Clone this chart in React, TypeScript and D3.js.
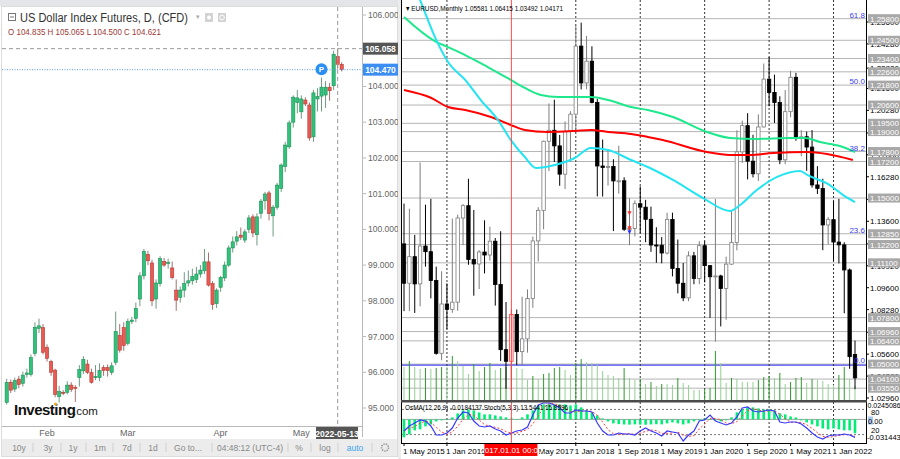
import { useEffect } from "react";
import * as d3 from "d3";

// ---------- left panel: US Dollar Index Futures, daily (Investing.com) ----------
// [open, high, low, close], mid-Jan .. 16 May 2022
const dxyCandles: [number, number, number, number][] = [
  [95.16, 95.82, 95.1, 95.72], [95.72, 95.8, 95.42, 95.5], [95.53, 95.85, 95.45, 95.77],
  [95.81, 95.9, 95.55, 95.66], [95.69, 96.02, 95.6, 95.92], [95.94, 96.1, 95.85, 95.98],
  [95.94, 96.5, 95.88, 96.41], [96.53, 97.4, 96.45, 97.26], [97.23, 97.5, 97.1, 97.3],
  [97.25, 97.35, 96.5, 96.56], [96.7, 96.78, 96.3, 96.39], [96.3, 96.35, 95.9, 96.0],
  [96.06, 96.1, 95.3, 95.38], [95.32, 95.62, 95.15, 95.46], [95.44, 95.5, 95.36, 95.42],
  [95.44, 95.75, 95.38, 95.64], [95.64, 95.72, 95.45, 95.52], [95.58, 95.64, 95.17, 95.55],
  [95.85, 96.2, 95.6, 96.08], [96.04, 96.45, 95.95, 96.36], [96.23, 96.35, 95.95, 96.0],
  [95.99, 96.1, 95.68, 95.72], [95.85, 96.2, 95.78, 95.88], [95.85, 96.25, 95.75, 96.05],
  [96.13, 96.2, 95.9, 96.05], [96.13, 96.22, 95.88, 96.05], [96.0, 96.28, 95.92, 96.18],
  [96.28, 97.7, 96.2, 97.14], [97.03, 97.35, 96.55, 96.62], [97.25, 97.4, 96.6, 96.75],
  [96.81, 97.5, 96.75, 97.42], [97.42, 97.55, 97.35, 97.46], [97.51, 97.95, 97.4, 97.79],
  [98.05, 98.8, 97.85, 98.7], [98.7, 99.45, 98.6, 99.38], [99.3, 99.4, 99.0, 99.12],
  [99.06, 99.15, 97.85, 98.0], [98.05, 98.6, 97.78, 98.5], [98.48, 99.25, 98.4, 99.18],
  [99.1, 99.2, 98.95, 99.0], [99.05, 99.18, 98.9, 99.08], [98.92, 99.1, 98.6, 98.65],
  [98.3, 98.6, 97.72, 98.02], [98.1, 98.4, 97.95, 98.3], [98.3, 98.8, 98.1, 98.48],
  [98.5, 98.85, 98.4, 98.56], [98.56, 98.9, 98.45, 98.68], [98.6, 98.95, 98.5, 98.75],
  [98.75, 99.0, 98.65, 98.86], [98.84, 99.45, 98.75, 99.09], [99.09, 99.35, 98.4, 98.44],
  [98.48, 98.55, 97.75, 97.9], [97.92, 98.35, 97.8, 98.3], [98.38, 98.7, 98.25, 98.65],
  [98.64, 99.1, 98.55, 99.0], [99.0, 99.55, 98.95, 99.48], [99.48, 99.8, 99.35, 99.65],
  [99.67, 99.95, 99.55, 99.79], [99.84, 100.05, 99.7, 99.78], [99.7, 100.0, 99.62, 99.93],
  [100.0, 100.4, 99.9, 100.32], [100.35, 100.42, 99.78, 99.9], [99.85, 100.45, 99.55, 100.35],
  [100.45, 100.85, 100.3, 100.79], [100.8, 101.05, 100.55, 100.99], [101.02, 101.08, 100.25, 100.44],
  [100.38, 100.68, 99.8, 100.62], [100.62, 101.3, 100.55, 101.24], [101.15, 101.85, 101.05, 101.8],
  [101.76, 102.45, 101.6, 102.36], [102.31, 103.05, 102.25, 102.98], [103.0, 103.75, 102.85, 103.7],
  [103.55, 103.9, 103.25, 103.68], [103.29, 103.75, 103.1, 103.65], [103.62, 103.7, 103.45, 103.51],
  [103.48, 103.55, 102.48, 102.56], [102.59, 103.9, 102.45, 103.82], [103.65, 103.95, 103.3, 103.72],
  [103.73, 104.25, 103.3, 103.98], [103.76, 104.15, 103.4, 103.98], [103.98, 104.1, 103.6, 103.88],
  [104.02, 105.0, 103.9, 104.9], [104.835, 105.065, 104.5, 104.621], [104.62, 104.68, 104.42, 104.47],
];
const dxyTicks = [95, 96, 97, 98, 99, 100, 101, 102, 103, 104, 105, 106];
const dxyMonthNames = ["Feb", "Mar", "Apr", "May"];
const dxyMonthIdx = [10, 30, 53, 73];
const dxyCrossIdx = 82;
const dxyCrossPrice = 105.058;
const dxyLastPrice = 104.47;
const toolbarLabels = ["10y", "3y", "1y", "1m", "7d", "1d", "Go to...", "04:48:12 (UTC-4)", "%", "log", "auto"];
const toolbarX = [19, 48, 73, 100, 127, 153, 188, 250, 299, 325, 355];
const toolbarSep = [33, 61, 86, 113, 140, 166, 212, 288, 311, 338, 372];

// ---------- right panel: EURUSD monthly (MT4), May 2015 .. May 2022 ----------
const eurCandles: [number, number, number, number][] = [
  [1.1224, 1.1467, 1.0819, 1.0987], [1.0987, 1.1436, 1.0819, 1.1147], [1.1147, 1.1278, 1.0808, 1.0983],
  [1.0983, 1.1714, 1.0848, 1.1211], [1.1211, 1.146, 1.1087, 1.1177], [1.1177, 1.1495, 1.0896, 1.1003],
  [1.1003, 1.1087, 1.0557, 1.0565], [1.0565, 1.1059, 1.0523, 1.0862], [1.0862, 1.0986, 1.0711, 1.083],
  [1.083, 1.1376, 1.0809, 1.0873], [1.0873, 1.14, 1.0821, 1.138], [1.138, 1.1464, 1.1216, 1.1454],
  [1.1454, 1.1616, 1.1098, 1.113], [1.113, 1.1428, 1.0912, 1.1103], [1.1103, 1.1186, 1.0952, 1.1175],
  [1.1175, 1.1366, 1.1046, 1.1157], [1.1157, 1.1327, 1.1123, 1.124], [1.124, 1.1259, 1.0852, 1.0979],
  [1.0979, 1.13, 1.0518, 1.0587], [1.0587, 1.0874, 1.0352, 1.0517], [1.0517, 1.0829, 1.034, 1.0799],
  [1.0799, 1.0829, 1.0494, 1.0575], [1.0575, 1.0906, 1.0493, 1.0652], [1.0652, 1.095, 1.0569, 1.0895],
  [1.0895, 1.1268, 1.0839, 1.1242], [1.1242, 1.1445, 1.1118, 1.1426], [1.1426, 1.1846, 1.1312, 1.1842],
  [1.1842, 1.207, 1.1662, 1.1908], [1.1908, 1.2092, 1.1717, 1.1814], [1.1814, 1.188, 1.1574, 1.1644],
  [1.1644, 1.1961, 1.1554, 1.1902], [1.1902, 1.2023, 1.1717, 1.2005], [1.2005, 1.2537, 1.1916, 1.2415],
  [1.2415, 1.2556, 1.2154, 1.2193], [1.2193, 1.2476, 1.2155, 1.2324], [1.2324, 1.2414, 1.207, 1.2076],
  [1.2076, 1.2097, 1.151, 1.1693], [1.1693, 1.1852, 1.1509, 1.1684], [1.1684, 1.1791, 1.1575, 1.169],
  [1.169, 1.1734, 1.1301, 1.1603], [1.1603, 1.1815, 1.1526, 1.1604], [1.1604, 1.1625, 1.1302, 1.1312],
  [1.1312, 1.15, 1.1216, 1.1317], [1.1317, 1.1486, 1.1269, 1.1466], [1.1466, 1.157, 1.1289, 1.1445],
  [1.1445, 1.1489, 1.1234, 1.1372], [1.1372, 1.1448, 1.1176, 1.1217], [1.1217, 1.1324, 1.111, 1.1216],
  [1.1216, 1.1265, 1.1107, 1.1169], [1.1169, 1.1412, 1.116, 1.1371], [1.1371, 1.1412, 1.1028, 1.1076],
  [1.1076, 1.125, 1.0926, 1.0987], [1.0987, 1.1109, 1.0879, 1.0899], [1.0899, 1.1179, 1.0879, 1.1152],
  [1.1152, 1.1176, 1.0981, 1.1016], [1.1016, 1.124, 1.0981, 1.1213], [1.1213, 1.1239, 1.0992, 1.1093],
  [1.1093, 1.1095, 1.0778, 1.1026], [1.1026, 1.1495, 1.0636, 1.1031], [1.1031, 1.1038, 1.0727, 1.0955],
  [1.0955, 1.1147, 1.0767, 1.1102], [1.1102, 1.1422, 1.1097, 1.1232], [1.1232, 1.1908, 1.1185, 1.1778],
  [1.1778, 1.1966, 1.1711, 1.1936], [1.1936, 1.2011, 1.1612, 1.1722], [1.1722, 1.1881, 1.1624, 1.1646],
  [1.1646, 1.2004, 1.1603, 1.1928], [1.1928, 1.231, 1.1925, 1.2216], [1.2216, 1.2349, 1.2053, 1.2136],
  [1.2136, 1.2243, 1.1952, 1.2075], [1.2075, 1.2113, 1.1704, 1.173], [1.173, 1.215, 1.1704, 1.202],
  [1.202, 1.2266, 1.1986, 1.2227], [1.2227, 1.2254, 1.1845, 1.1858], [1.1858, 1.1909, 1.1752, 1.1869],
  [1.1869, 1.19, 1.1664, 1.1807], [1.1807, 1.1909, 1.1563, 1.1579], [1.1579, 1.1692, 1.1524, 1.1558],
  [1.1558, 1.1616, 1.1186, 1.1338], [1.1338, 1.1386, 1.1222, 1.137], [1.137, 1.1483, 1.1121, 1.1235],
  [1.1235, 1.1495, 1.1106, 1.1218], [1.1218, 1.1234, 1.0806, 1.1067], [1.1067, 1.1076, 1.0472, 1.0545],
  [1.05581, 1.06415, 1.03492, 1.04171],
];
// tick volume (thousands)
const eurVolume = [
  34, 40, 34, 32, 33, 32, 33, 34, 34, 45, 40, 35, 27, 37, 30, 34, 38, 31, 33, 34,
  36, 33, 32, 21, 25, 22, 27, 28, 33, 34, 31, 26, 38, 42, 39, 38, 36, 30, 26, 25,
  23, 33, 23, 21, 22, 17, 19, 15, 17, 17, 16, 23, 18, 16, 11, 11, 12, 13, 50, 38,
  18, 23, 22, 19, 19, 19, 21, 24, 25, 23, 28, 17, 19, 23, 24, 18, 22, 21, 20, 17,
  16, 26, 34, 22, 15,
];
const osma = [
  -0.0239, -0.02, -0.0146, -0.0133, -0.0093, -0.0067, -0.0027, -0.0013, 0.0003, 0.0027,
  0.008, 0.012, 0.0133, 0.012, 0.0093, 0.0067, 0.0067, 0.0053, 0.004, 0.0027,
  0.0013, 0.0003, 0.0027, 0.0067, 0.012, 0.0173, 0.02, 0.0202, 0.0198, 0.02,
  0.02, 0.0186, 0.02, 0.016, 0.012, 0.0093, 0.0053, 0.0013, -0.0027, -0.0053,
  -0.0063, -0.0068, -0.007, -0.0066, -0.0069, -0.0071, -0.0067, -0.0064, -0.0066, -0.0053,
  -0.004, -0.0053, -0.0067, -0.0053, -0.0027, -0.0013, 0.0013, 0.0003, -0.0013, -0.0027,
  -0.0013, 0.0027, 0.0093, 0.0133, 0.016, 0.016, 0.0146, 0.0133, 0.0133, 0.012,
  0.008, 0.0067, 0.004, 0.0027, -0.0013, -0.004, -0.0067, -0.0093, -0.012, -0.0133,
  -0.012, -0.0133, -0.0146, -0.0146, -0.0184,
];
const stochMain = [
  28.6, 40.5, 47.6, 54.8, 52.4, 40.5, 19.0, 19.0, 23.8, 35.7, 59.5, 73.8, 71.4, 52.4, 40.5, 38.1, 40.5, 33.3, 28.6, 19.0,
  23.8, 28.6, 31.0, 38.1, 66.7, 90.5, 95.2, 95.2, 90.5, 83.3, 71.4, 71.4, 78.6, 76.2, 76.2, 73.8, 47.6, 28.6, 19.0, 19.0,
  23.8, 21.4, 21.4, 19.0, 28.6, 35.7, 28.6, 23.8, 16.7, 28.6, 26.2, 23.8, 4.8, 19.0, 28.6, 52.4, 54.8, 66.7, 52.4, 47.6,
  42.9, 47.6, 61.9, 83.3, 85.7, 76.2, 73.8, 76.2, 78.6, 76.2, 50.0, 47.6, 50.0, 50.0, 45.2, 35.7, 23.8, 14.3, 9.5, 16.7,
  19.0, 19.0, 21.4, 19.0, 13.5,
];
const stochSignal = [
  30.0, 35.0, 38.9, 47.6, 51.6, 49.2, 37.3, 26.2, 20.6, 26.2, 39.7, 56.3, 68.2, 65.9, 54.8, 43.7, 39.7, 37.3, 34.1, 27.0,
  23.8, 23.8, 27.8, 32.6, 45.3, 65.1, 84.1, 93.6, 93.6, 89.7, 81.7, 75.4, 73.8, 75.4, 77.0, 75.4, 65.9, 50.0, 31.7, 22.2,
  20.6, 21.4, 22.2, 20.6, 23.0, 27.8, 31.0, 29.4, 23.0, 23.0, 23.8, 26.2, 18.3, 15.9, 17.5, 33.3, 45.3, 58.0, 58.0, 55.6,
  47.6, 46.0, 50.8, 64.3, 77.0, 81.7, 78.6, 75.4, 76.2, 77.0, 68.3, 58.0, 49.2, 49.2, 48.4, 43.6, 34.9, 24.6, 15.9, 13.5,
  15.1, 18.3, 19.8, 19.8, 15.9,
];
// moving averages: [month index, price]
const maCyan: [number, number][] = [
  [0, 1.293], [3, 1.2692], [6, 1.2452], [8.2, 1.2319], [11.4, 1.2211], [14.3, 1.209], [17.5, 1.197],
  [19.9, 1.1849], [22.5, 1.1747], [24.6, 1.1681], [28.1, 1.1699], [31.8, 1.1741], [34.8, 1.1801],
  [38, 1.1789], [42.3, 1.1729], [45.4, 1.1687], [50.1, 1.1609], [55.7, 1.15], [60.7, 1.1422],
  [62.6, 1.1458], [65.7, 1.1548], [69.5, 1.1627], [73.8, 1.1663], [75.1, 1.1639], [79.3, 1.1578],
  [81.8, 1.1518], [84, 1.1476],
];
const maGreen: [number, number][] = [
  [0, 1.259], [6, 1.244], [8.2, 1.2409], [11.4, 1.2361], [15.6, 1.2289], [19.9, 1.2211], [22.5, 1.2163],
  [25.5, 1.212], [28.7, 1.2108], [31.8, 1.2108], [34.8, 1.2108], [38, 1.209], [42.3, 1.2048],
  [45.4, 1.203], [50.1, 1.1988], [56.4, 1.1898], [60.7, 1.1862], [65.7, 1.1856], [71.9, 1.1862],
  [74.7, 1.1862], [77.5, 1.1837], [81.2, 1.1813], [84, 1.1777],
];
const maRed: [number, number][] = [
  [0, 1.2151], [5, 1.2104], [8.2, 1.2048], [11.4, 1.203], [16.2, 1.1988], [19.9, 1.194], [22.5, 1.191],
  [26.8, 1.1898], [31.8, 1.1904], [34.8, 1.191], [38, 1.1898], [42.3, 1.1886], [45.4, 1.1868],
  [48.2, 1.1849], [56.4, 1.1777], [60.7, 1.1759], [64.4, 1.1759], [68.7, 1.1771], [75.1, 1.1777],
  [78.8, 1.1765], [83.6, 1.1729],
];
const levelPrices = [
  1.258, 1.245, 1.234, 1.226, 1.218, 1.206, 1.195, 1.19, 1.178, 1.172, 1.15,
  1.1285, 1.122, 1.111, 1.078, 1.0696, 1.064, 1.05, 1.041, 1.0355,
];
const eurTicks = [
  1.0296, 1.0428, 1.056, 1.0692, 1.0828, 1.096, 1.1092, 1.1224, 1.136,
  1.1492, 1.1628, 1.176, 1.1892, 1.2028, 1.216, 1.2282, 1.2428, 1.256,
];
const fibPrices = [1.258, 1.218, 1.178, 1.1285, 1.05];
const fibNames = ["61.8", "50.0", "38.2", "23.6", "0.0"];
// "1 Sep 2016" sits under the red crosshair date box, so it is not listed
const dateNames = ["1 May 2015", "1 Jan 2016", "1 May 2017", "1 Jan 2018", "1 Sep 2018",
  "1 May 2019", "1 Jan 2020", "1 Sep 2020", "1 May 2021", "1 Jan 2022"];
const dateMonths = [0, 8, 24, 32, 40, 48, 56, 64, 72, 80];
const yearSeparators = [8, 32, 44, 56, 68, 80];
const eurCrossMonth = 20;
const tradeMarks: [number, number, string][] = [[42, 1.1409, "#ff2a2a"], [42, 1.1318, "#ff2a2a"], [42, 1.1294, "#2a2aff"]];

const SANS = "Liberation Sans, Arial, sans-serif";

export default function App() {
  useEffect(() => {
    document.body.style.margin = "0";
  }, []);

  // left scales
  const xD = d3.scaleLinear().domain([0, dxyCandles.length - 1]).range([6.7, 341.7]);
  const yD = d3.scaleLinear().domain([95, 106]).range([408, 15]);
  // right scales
  const xM = d3.scaleLinear().domain([0, eurCandles.length - 1]).range([404, 855]);
  const yM = d3.scaleLinear().domain([1.0296, 1.256]).range([398, 22]);
  const yVol = d3.scaleLinear().domain([0, 50]).range([401, 351]);
  const yOs = d3.scaleLinear().domain([-0.031443, 0.0245086]).range([443, 401]);
  const ySt = d3.scaleLinear().domain([0, 100]).range([443, 401]);

  const maPath = d3.line<[number, number]>().x((d) => xM(d[0])).y((d) => yM(d[1])).curve(d3.curveMonotoneX);
  const stPath = d3.line<number>().x((_, i) => xM(i)).y((d) => ySt(d));

  const crossY = yD(dxyCrossPrice);
  const lastY = yD(dxyLastPrice);
  const crossX = xD(dxyCrossIdx);
  // axis labels hidden behind the two price boxes are not drawn
  const visibleTicks = dxyTicks.filter((t) => Math.abs(yD(t) - crossY) > 8 && Math.abs(yD(t) - lastY) > 8);

  return (
    <svg width={900} height={459} style={{ position: "fixed", left: 0, top: 0, background: "#fff" }}>
      <defs>
        <clipPath id="clipL"><rect x={2} y={7} width={360} height={419} /></clipPath>
        <clipPath id="clipM"><rect x={402} y={0} width={464} height={400} /></clipPath>
        <clipPath id="clipS"><rect x={402} y={402} width={464} height={41} /></clipPath>
      </defs>

      {/* ================= LEFT PANEL ================= */}
      <g fontFamily={SANS}>
        <rect x={0} y={0} width={399} height={6} fill="#e3e5e8" />
        <rect x={1.5} y={6.5} width={396} height={450} fill="none" stroke="#dcdcdc" />
        <line x1={362.5} x2={362.5} y1={7} y2={437} stroke="#b9b9b9" />
        <line x1={2} x2={363} y1={426.5} y2={426.5} stroke="#b9b9b9" />

        {/* title */}
        <rect x={8.5} y={13.5} width={7} height={7} fill="none" stroke="#777" />
        <line x1={10} x2={14} y1={17} y2={17} stroke="#777" />
        <text x={20} y={21.5} fontSize={12} fill="#333" textLength={168} lengthAdjust="spacingAndGlyphs">
          US Dollar Index Futures, D, (CFD)
        </text>
        <text x={196} y={19} fontSize={7} fill="#aaa">▾</text>
        <rect x={205} y={13} width={8} height={9} fill="#d3d3d3" />
        <circle cx={209} cy={17.5} r={2} fill="#fff" />
        <rect x={218} y={13} width={8} height={9} fill="#d3d3d3" />
        <circle cx={222} cy={17.5} r={2.3} fill="none" stroke="#fff" />
        <text x={8} y={35} fontSize={9.5} fill="#9c3a36" textLength={153} lengthAdjust="spacingAndGlyphs">
          O 104.835  H 105.065  L 104.500  C 104.621
        </text>

        {/* y axis */}
        {dxyTicks.map((t) => (
          <line key={t} x1={362} x2={366} y1={yD(t)} y2={yD(t)} stroke="#b9b9b9" />
        ))}
        {visibleTicks.map((t) => (
          <text key={t} x={368} y={yD(t) + 3} fontSize={8.5} fill="#666">{t.toFixed(3)}</text>
        ))}

        {/* x axis */}
        {dxyMonthNames.map((n, k) => (
          <text key={n} x={xD(dxyMonthIdx[k])} y={436} fontSize={9} fill="#666" textAnchor="middle">{n}</text>
        ))}

        <g clipPath="url(#clipL)">
          {dxyCandles.map(([o, h, l, c], i) => {
            const x = xD(i);
            const up = c >= o;
            const top = yD(Math.max(o, c));
            const bot = yD(Math.min(o, c));
            return (
              <g key={i}>
                <line x1={x} x2={x} y1={yD(h)} y2={yD(l)} stroke={up ? "#5d8f73" : "#9a625f"} strokeWidth={0.9} />
                <rect x={x - 1.6} y={top} width={3.2} height={Math.max(1, bot - top)}
                  fill={up ? "#2fc27a" : "#ea5a52"} stroke={up ? "#1e8f55" : "#b33a34"} strokeWidth={0.6} />
              </g>
            );
          })}
          <line x1={2} x2={362} y1={crossY} y2={crossY} stroke="#9a9a9a" strokeDasharray="4,3" />
          <line x1={2} x2={362} y1={lastY} y2={lastY} stroke="#5b9bf0" strokeDasharray="1,1.5" />
          <line x1={crossX} x2={crossX} y1={7} y2={426} stroke="#9a9a9a" strokeDasharray="4,3" />
          <circle cx={321.5} cy={lastY - 0.5} r={6} fill="#2b8ef0" />
          <text x={321.5} y={lastY + 2.5} fontSize={8} fontWeight="bold" fill="#fff" textAnchor="middle">P</text>
        </g>

        {/* price boxes */}
        <rect x={363} y={crossY - 6} width={35} height={12} fill="#555" />
        <text x={380.5} y={crossY + 3} fontSize={8.5} fontWeight="bold" fill="#fff" textAnchor="middle">{dxyCrossPrice.toFixed(3)}</text>
        <rect x={363} y={lastY - 6} width={35} height={12} fill="#3c8ef2" />
        <text x={380.5} y={lastY + 3} fontSize={8.5} fontWeight="bold" fill="#fff" textAnchor="middle">{dxyLastPrice.toFixed(3)}</text>
        <rect x={316} y={427} width={42} height={12} fill="#555" />
        <text x={337} y={436.5} fontSize={8.5} fontWeight="bold" fill="#fff" textAnchor="middle">2022-05-13</text>

        {/* watermark */}
        <text x={14} y={415} fontSize={15} fontWeight="bold" fill="#111" letterSpacing={-0.5}>Investing</text>
        <text x={73} y={415} fontSize={11.5} fill="#222">.com</text>
        <circle cx={55.5} cy={404} r={1.6} fill="#f5a623" />

        {/* bottom toolbar */}
        <rect x={2} y={439} width={395} height={17} fill="#ececec" />
        {toolbarSep.map((x) => (
          <line key={x} x1={x} x2={x} y1={443} y2={452} stroke="#cfcfcf" />
        ))}
        {toolbarLabels.map((t, k) => (
          <text key={t} x={toolbarX[k]} y={450.5} fontSize={8.5} fill={t === "auto" ? "#3aa3f0" : "#888"} textAnchor="middle">{t}</text>
        ))}
        <circle cx={385} cy={447.5} r={3.5} fill="none" stroke="#999" strokeWidth={1.6} strokeDasharray="1.4,1" />
      </g>

      {/* ================= RIGHT PANEL (MT4) ================= */}
      <g fontFamily={SANS}>
        <rect x={398} y={0} width={3} height={459} fill="#ececec" />
        <g clipPath="url(#clipM)">
          {levelPrices.map((p) => (
            <line key={p} x1={402} x2={866} y1={yM(p)} y2={yM(p)} stroke="#b4b4b4" />
          ))}
          <line x1={402} x2={866} y1={yM(1.05) + 1} y2={yM(1.05) + 1} stroke="#4a4af0" strokeWidth={1.2} />
          {yearSeparators.map((m) => (
            <line key={m} x1={xM(m)} x2={xM(m)} y1={0} y2={400} stroke="#333" strokeDasharray="2,2" />
          ))}
          {eurVolume.map((v, m) => (
            <line key={m} x1={xM(m)} x2={xM(m)} y1={401} y2={yVol(v)}
              stroke={m > 0 && v > eurVolume[m - 1] ? "#2e9a2e" : "#93d193"} strokeWidth={1} />
          ))}
          {eurCandles.map(([o, h, l, c], m) => {
            const x = xM(m);
            const up = c >= o;
            const sel = m === eurCrossMonth;
            const col = sel ? "#ff2a2a" : up ? "#7d7d7d" : "#000";
            const top = yM(Math.max(o, c));
            const bot = yM(Math.min(o, c));
            return (
              <g key={m}>
                <line x1={x} x2={x} y1={yM(h)} y2={yM(l)} stroke={col} />
                <rect x={x - 1.7} y={top} width={3.4} height={Math.max(1, bot - top)}
                  fill={up ? "#fff" : "#000"} stroke={col} strokeWidth={0.8} />
              </g>
            );
          })}
          <path d={maPath(maRed) ?? ""} fill="none" stroke="#ff0000" strokeWidth={2} />
          <path d={maPath(maGreen) ?? ""} fill="none" stroke="#1ee88c" strokeWidth={2} />
          <path d={maPath(maCyan) ?? ""} fill="none" stroke="#22e4f2" strokeWidth={2} />
          {tradeMarks.map(([m, p, c], k) => (
            <path key={k} d={`M${xM(m) - 2},${yM(p) - 2}L${xM(m) + 2},${yM(p) - 2}L${xM(m)},${yM(p) + 2}Z`} fill={c} />
          ))}
          {fibPrices.map((p, k) => (
            <text key={p} x={865} y={yM(p) - 1} fontSize={8} fill="#3c3cf5" textAnchor="end">{fibNames[k]}</text>
          ))}
        </g>

        {/* sub window */}
        <g clipPath="url(#clipS)">
          <line x1={402} x2={866} y1={yOs(0)} y2={yOs(0)} stroke="#a0a0a0" />
          <line x1={402} x2={866} y1={ySt(80)} y2={ySt(80)} stroke="#777" strokeDasharray="2,2" />
          <line x1={402} x2={866} y1={ySt(20)} y2={ySt(20)} stroke="#777" strokeDasharray="2,2" />
          {yearSeparators.map((m) => (
            <line key={m} x1={xM(m)} x2={xM(m)} y1={402} y2={443} stroke="#333" strokeDasharray="2,2" />
          ))}
          {osma.map((v, m) => (
            <rect key={m} x={xM(m) - 1.3} y={Math.min(yOs(v), yOs(0))} width={2.6}
              height={Math.max(0.6, Math.abs(yOs(v) - yOs(0)))} fill="#00ee76" />
          ))}
          <path d={stPath(stochSignal) ?? ""} fill="none" stroke="#ff3b3b" strokeWidth={1} strokeDasharray="2,2" />
          <path d={stPath(stochMain) ?? ""} fill="none" stroke="#3a3aff" strokeWidth={1.2} />
          <text x={405} y={410} fontSize={7.5} fill="#000" textLength={163} lengthAdjust="spacingAndGlyphs">
            OsMA(12,26,9) -0.0184137  Stoch(5,3,3) 13.5441 15.8596
          </text>
        </g>

        {/* crosshair */}
        <line x1={xM(eurCrossMonth)} x2={xM(eurCrossMonth)} y1={0} y2={443} stroke="#ff4a4a" />

        {/* header */}
        <text x={406} y={11} fontSize={7.5} fill="#000" textLength={157} lengthAdjust="spacingAndGlyphs">
          ▾ EURUSD,Monthly  1.05581 1.06415 1.03492 1.04171
        </text>

        {/* frame */}
        <line x1={401.5} x2={401.5} y1={0} y2={444} stroke="#000" />
        <line x1={866.5} x2={866.5} y1={0} y2={444} stroke="#000" />
        <rect x={401} y={400} width={466} height={2.5} fill="#4a4a4a" />
        <line x1={401} x2={867} y1={443.5} y2={443.5} stroke="#000" />

        {/* right axis */}
        {eurTicks.map((t) => (
          <g key={t}>
            <line x1={866} x2={869} y1={yM(t)} y2={yM(t)} stroke="#000" />
            <text x={870} y={yM(t) + 3} fontSize={8} fill="#000">{t.toFixed(5)}</text>
          </g>
        ))}
        {levelPrices.map((p) => (
          <g key={p}>
            <rect x={868} y={yM(p) - 4.5} width={33} height={9} fill="#a8a8a8" />
            <text x={870} y={yM(p) + 3} fontSize={8} fill="#fff">{p.toFixed(5)}</text>
          </g>
        ))}
        <text x={867.5} y={408} fontSize={7} fill="#000">0.0245086</text>
        <text x={871} y={414.5} fontSize={7.5} fill="#000">80</text>
        <rect x={868} y={416.5} width={5} height={8} fill="#a8c8f0" />
        <text x={868} y={423.5} fontSize={7.5} fill="#000">0.00</text>
        <text x={871} y={433} fontSize={7.5} fill="#000">20</text>
        <text x={867} y={440} fontSize={7.5} fill="#000">-0.031443</text>

        {/* date axis */}
        {dateNames.map((n, k) => (
          <g key={n}>
            <line x1={xM(dateMonths[k])} x2={xM(dateMonths[k])} y1={443} y2={446} stroke="#000" />
            <text x={xM(dateMonths[k]) - 1} y={453.5} fontSize={8} fill="#000">{n}</text>
          </g>
        ))}
        <rect x={xM(eurCrossMonth) - 27} y={444} width={53} height={12} fill="#ff0000" />
        <text x={xM(eurCrossMonth)} y={453} fontSize={8} fill="#fff" textAnchor="middle">2017.01.01 00:00</text>
      </g>
    </svg>
  );
}
